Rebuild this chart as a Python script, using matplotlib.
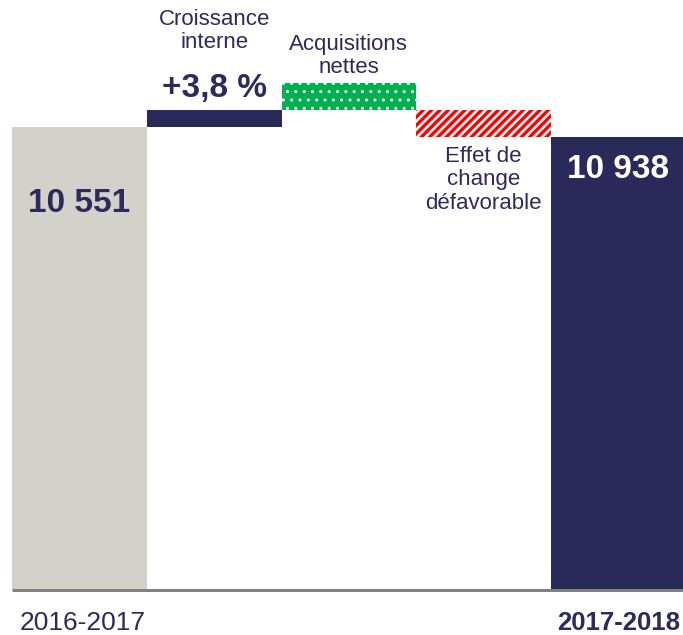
import matplotlib.pyplot as plt

# schematic waterfall, heights (not to scale in the source)
categories = ["2016-2017", "Croissance\ninterne", "Acquisitions\nnettes",
              "Effet de\nchange\ndéfavorable", "2017-2018"]
bar_bottoms = [0, 463, 480, 453, 0]
bar_tops = [463, 480, 507, 480, 453]
revenue_start = "10 551"
revenue_end = "10 938"
growth_label = "+3,8 %"

NAVY = "#2a2a5a"
TEXT = "#2b2b5e"
GRAY = "#d4d1cb"
GREEN = "#00b050"
RED = "#ff0000"

plt.rcParams["font.family"] = ["Liberation Sans", "DejaVu Sans"]

fig = plt.figure(figsize=(6.83, 6.35), dpi=100)
ax = fig.add_axes([0, 45 / 635, 1, 590 / 635])
bw = 134.75
x0 = -0.5 - 12 / bw
ax.set_xlim(x0, x0 + 683 / bw)
ax.set_ylim(0, 590)
ax.axis("off")

heights = [t - b for t, b in zip(bar_tops, bar_bottoms)]
ax.bar(0, heights[0], bottom=bar_bottoms[0], width=1, color=GRAY, linewidth=0)
ax.bar(1, heights[1], bottom=bar_bottoms[1], width=1, color=NAVY, linewidth=0)

plt.rcParams["hatch.linewidth"] = 1.0
ax.bar(2, heights[2], bottom=bar_bottoms[2], width=1, facecolor=GREEN,
       edgecolor="white", hatch="..", linewidth=0)
plt.rcParams["hatch.linewidth"] = 2.4
ax.bar(3, heights[3], bottom=bar_bottoms[3], width=1, facecolor="white",
       edgecolor=RED, hatch="////", linewidth=0)
ax.bar(4, heights[4], bottom=bar_bottoms[4], width=1, color=NAVY, linewidth=0)

# baseline
ax.plot([-0.5, 4.6], [0, 0], color="#808080", lw=2.2, clip_on=False,
        solid_capstyle="butt")

lab = dict(ha="center", va="center", color=TEXT, fontsize=16, linespacing=1.15)
ax.text(1, 590 - 31, categories[1], **lab)
ax.text(2, 590 - 56, categories[2], **lab)
ax.text(3, 590 - 180, categories[3], **lab)

big = dict(ha="center", va="center", fontsize=24, fontweight="bold")
ax.text(1, 590 - 88, growth_label, color=TEXT, **big)
ax.text(0, 590 - 203, revenue_start, color=TEXT, **big)
ax.text(4, 590 - 170, revenue_end, color="white", **big)

ax.text(x0 + 20 / bw, -33, categories[0], ha="left", va="center",
        color=TEXT, fontsize=19, clip_on=False)
ax.text(x0 + 680 / bw, -33, categories[4], ha="right", va="center",
        color=TEXT, fontsize=18.5, fontweight="bold", clip_on=False)

fig.savefig("out.png", dpi=100)
